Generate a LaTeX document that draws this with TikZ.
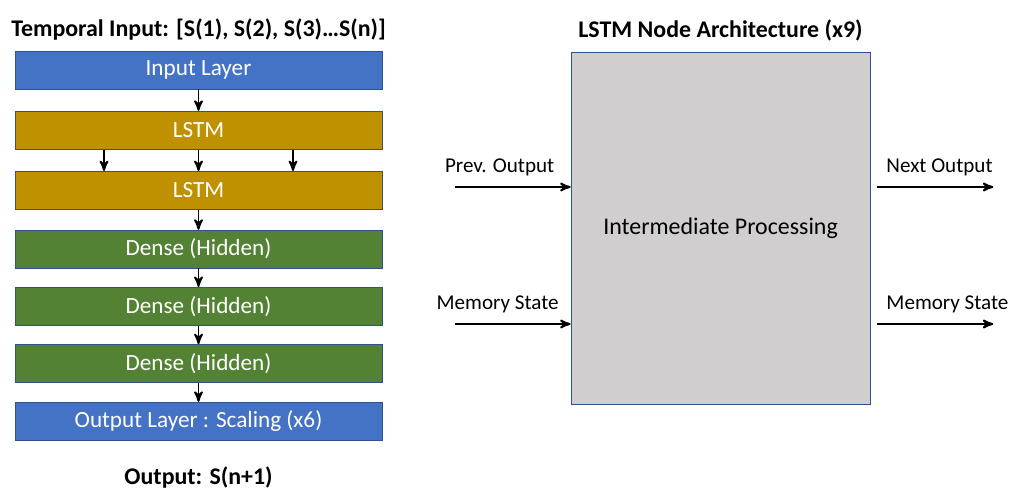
\documentclass[tikz,border=0pt]{standalone}
\usepackage{fontspec}
\setmainfont{Carlito}
\usetikzlibrary{arrows,positioning}
\definecolor{layerBlue}{HTML}{4472C4}
\definecolor{layerGold}{HTML}{BF9000}
\definecolor{layerGreen}{HTML}{548235}
\definecolor{layerEdge}{HTML}{2F528F}
\definecolor{cellGrey}{HTML}{D0CECE}
\tikzset{
    >=stealth',
    layer/.style={
           rectangle,
           draw=layerEdge, thin,
           minimum width=7.34cm,
           minimum height=0.76cm,
           text=white,
           font=\fontsize{13.2}{15}\selectfont,
           text centered},
    ioLayer/.style={layer, fill=layerBlue},
    lstmLayer/.style={layer, fill=layerGold},
    denseLayer/.style={layer, fill=layerGreen},
    cell/.style={
           rectangle,
           draw=layerEdge, thin,
           fill=cellGrey,
           minimum width=5.98cm,
           minimum height=7.04cm,
           font=\fontsize{13.6}{16}\selectfont},
    heading/.style={font=\bfseries\fontsize{13.6}{16}\selectfont},
    portLabel/.style={font=\fontsize{12}{14}\selectfont, inner sep=1pt},
    pil/.style={
           ->,
           line width=1.1pt}
}
\begin{document}
\begin{tikzpicture}
	\useasboundingbox (0,0) rectangle (20.18,-9.84);
	% left: network stack
	\node[ioLayer] (Input) at (3.97,-1.4) {Input Layer};
	\node[lstmLayer, below = 0.43cm of Input] (LSTMa) {LSTM};
	\node[lstmLayer, below = 0.43cm of LSTMa] (LSTMb) {LSTM};
	\node[denseLayer, below = 0.4cm of LSTMb] (DenseA) {Dense (Hidden)};
	\node[denseLayer, below = 0.37cm of DenseA] (DenseB) {Dense (Hidden)};
	\node[denseLayer, below = 0.37cm of DenseB] (DenseC) {Dense (Hidden)};
	\node[ioLayer, below = 0.38cm of DenseC] (Output) {Output Layer : Scaling (x6)};
	\node[heading, above = 0.08cm of Input] (InTitle) {Temporal Input: [S(1), S(2), S(3)…S(n)]};
	\node[heading, below = 0.4cm of Output] (OutTitle) {Output: S(n+1)};
	\draw [pil] (Input) -- (LSTMa);
	\foreach \dx in {-1.89,0,1.89}
		\draw [pil] ([xshift=\dx cm]LSTMa.south) -- ([xshift=\dx cm]LSTMb.north);
	\draw [pil] (LSTMb) -- (DenseA);
	\draw [pil] (DenseA) -- (DenseB);
	\draw [pil] (DenseB) -- (DenseC);
	\draw [pil] (DenseC) -- (Output);
	% right: single node
	\node[cell] (Cell) at (14.41,-4.56) {Intermediate Processing};
	\node[heading, above = 0.08cm of Cell] (CellTitle) {LSTM Node Architecture (x9)};
	\coordinate[left = 2.32cm of Cell.west, yshift=0.82cm] (PrevIn);
	\coordinate[left = 2.32cm of Cell.west, yshift=-1.92cm] (MemIn);
	\coordinate (PrevEnd) at (Cell.west |- PrevIn);
	\coordinate (MemEnd) at (Cell.west |- MemIn);
	\coordinate[right = 0.14cm of PrevEnd -| Cell.east] (NextStart);
	\coordinate[right = 0.14cm of MemEnd -| Cell.east] (MemStart);
	\coordinate[right = 2.32cm of NextStart] (NextOut);
	\coordinate[right = 2.32cm of MemStart] (MemOut);
	\draw [pil] (PrevIn) -- (PrevEnd);
	\draw [pil] (MemIn) -- (MemEnd);
	\draw [pil] (NextStart) -- (NextOut);
	\draw [pil] (MemStart) -- (MemOut);
	\node[portLabel, above = 0.17cm of PrevIn, xshift=0.9cm] (PrevLbl) {Prev. Output};
	\node[portLabel, above = 0.17cm of MemIn, xshift=0.86cm] (MemLbl) {Memory State};
	\node[portLabel, above = 0.17cm of NextStart, anchor=south west, xshift=0.14cm] (NextLbl) {Next Output};
	\node[portLabel, above = 0.17cm of MemStart, anchor=south west, xshift=0.14cm] (MemOutLbl) {Memory State};
\end{tikzpicture}
\end{document}
